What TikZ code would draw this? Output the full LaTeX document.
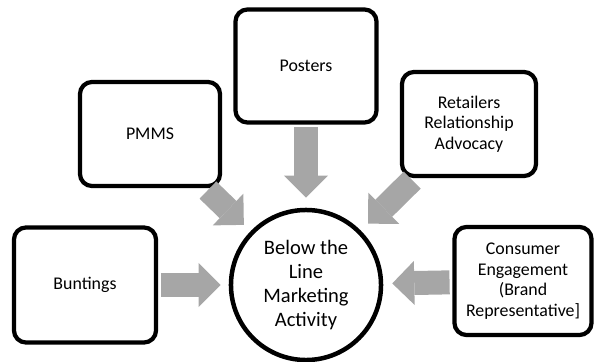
\documentclass[tikz,border=0pt]{standalone}
\usepackage{fontspec}
\setmainfont{Carlito}
\usetikzlibrary{arrows.meta}
\definecolor{arrowgray}{HTML}{A6A6A6}
\begin{document}
\begin{tikzpicture}[x=0.025cm, y=-0.025cm,
  item/.style={draw, line width=3pt, rounded corners=0.3cm, align=center, font=\fontsize{12.7}{14.7}\selectfont},
  hub/.style={draw, circle, line width=3.2pt, minimum size=3.75cm, align=center, font=\fontsize{14.6}{17}\selectfont},
  feed/.style={draw=arrowgray, line width=0.6cm, -{Triangle[line width=0pt, length=0.55cm, width=1.1cm]}, shorten <=2pt}]
\useasboundingbox (0,0) rectangle (595,362);
\node[item, minimum width=3.55cm, minimum height=2.875cm] (bunt) at (85,285) {Buntings};
\node[item, minimum width=3.5cm, minimum height=2.6cm] (pmms) at (150,134) {PMMS};
\node[item, minimum width=3.525cm, minimum height=2.825cm] (post) at (306,66) {Posters};
\node[item, minimum width=3.35cm, minimum height=2.6cm] (retail) at (469,124) {Retailers\\Relationship\\Advocacy};
\node[item, minimum width=3.425cm, minimum height=2.7cm] (cons) at (523,281) {Consumer\\Engagement\\(Brand\\Representative]};
\node[hub] (core) at (306,285) {Below the\\Line\\Marketing\\Activity};
\draw[feed, shorten >=0.2cm] (bunt) -- (core);
\draw[feed, shorten >=0.23cm] (pmms) -- (core);
\draw[feed, shorten >=0.25cm] (post) -- (core);
\draw[feed, shorten >=0.25cm] (retail) -- (core);
\draw[feed, shorten >=0.225cm] (cons) -- (core);
\end{tikzpicture}
\end{document}
